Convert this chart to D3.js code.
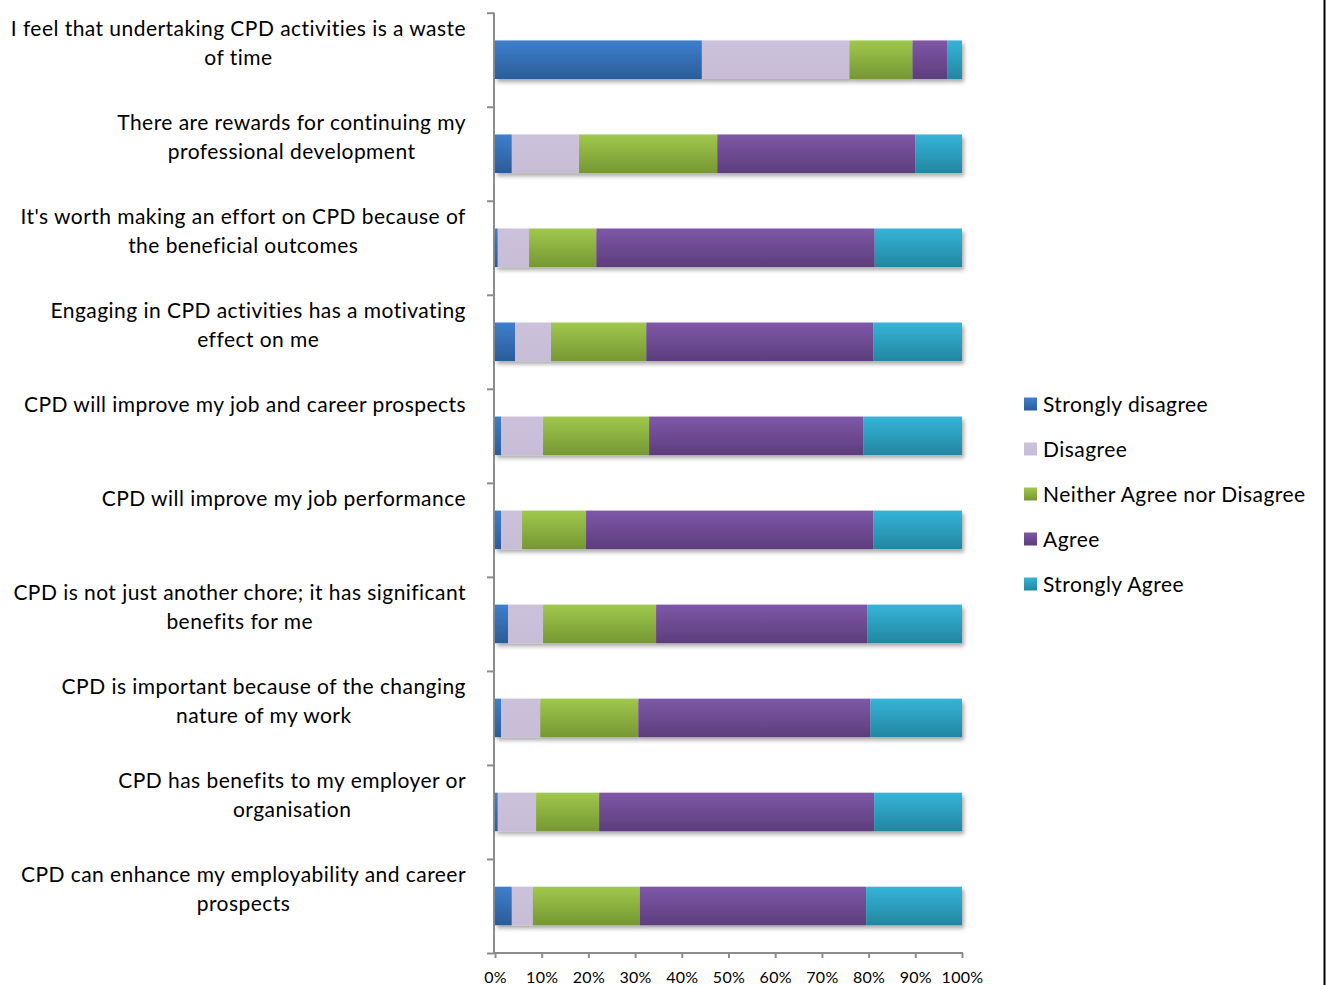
<!DOCTYPE html>
<html>
<head>
<meta charset="utf-8">
<script src="https://cdn.jsdelivr.net/npm/d3@7"></script>
<style>
  html, body { margin: 0; padding: 0; background: #fff; }
  svg { display: block; font-family: Lato, "Open Sans", sans-serif; }
</style>
</head>
<body>
<svg id="chart" width="1327" height="985"></svg>
<script>
// Survey statements (line breaks mark where each label wraps)
const categories = [
  "I feel that undertaking CPD activities is a waste\nof time",
  "There are rewards for continuing my\nprofessional development",
  "It's worth making an effort on CPD because of\nthe beneficial outcomes",
  "Engaging in CPD activities has a motivating\neffect on me",
  "CPD will improve my job and career prospects",
  "CPD will improve my job performance",
  "CPD is not just another chore; it has significant\nbenefits for me",
  "CPD is important because of the changing\nnature of my work",
  "CPD has benefits to my employer or\norganisation",
  "CPD can enhance my employability and career\nprospects"
];

const seriesNames = ["Strongly disagree", "Disagree", "Neither Agree nor Disagree", "Agree", "Strongly Agree"];

// Percentage of respondents per statement, one array per response
const stronglyDisagree = [44.3, 3.6, 0.6, 4.3, 1.3, 1.3, 2.8, 1.3, 0.6, 3.6];
const disagree         = [31.6, 14.4, 6.7, 7.7, 9.0, 4.5, 7.5, 8.4, 8.2, 4.5];
const neither          = [13.5, 29.6, 14.4, 20.4, 22.7, 13.7, 24.2, 21.0, 13.5, 22.9];
const agree            = [7.5, 42.4, 59.6, 48.6, 45.9, 61.5, 45.2, 49.7, 58.9, 48.4];
const stronglyAgree    = [3.1, 10.0, 18.7, 19.0, 21.1, 19.0, 20.3, 19.6, 18.8, 20.5];

const xTicks = [0, 0.1, 0.2, 0.3, 0.4, 0.5, 0.6, 0.7, 0.8, 0.9, 1.0];

const seriesValues = [stronglyDisagree, disagree, neither, agree, stronglyAgree];
const rows = categories.map((c, i) => {
  const r = { category: c };
  seriesNames.forEach((s, k) => { r[s] = seriesValues[k][i]; });
  return r;
});

// Top/bottom gradient stops per series
const palette = {
  "Strongly disagree":          ["#3d7fce", "#2b5c99"],
  "Disagree":                   ["#ccc1db", "#c8bdd6"],
  "Neither Agree nor Disagree": ["#a0c84c", "#769733"],
  "Agree":                      ["#7e58a8", "#5d3d7c"],
  "Strongly Agree":             ["#35b4d8", "#2386a0"]
};

const svg = d3.select("#chart");
const plot = { left: 495, right: 962, top: 12.7, bottom: 953 };
const labelFont = "21px";
const labelSpacing = "0.45px";

const x = d3.scaleLinear().domain([0, 1]).range([plot.left, plot.right]);
const y = d3.scaleBand().domain(categories).range([plot.top, plot.bottom])
  .paddingInner(0.59).paddingOuter(0.295);

const defs = svg.append("defs");
seriesNames.forEach((s, k) => {
  const g = defs.append("linearGradient").attr("id", "grad" + k)
    .attr("x1", 0).attr("y1", 0).attr("x2", 0).attr("y2", 1);
  g.append("stop").attr("offset", "0%").attr("stop-color", palette[s][0]);
  g.append("stop").attr("offset", "100%").attr("stop-color", palette[s][1]);
});
const shadow = defs.append("filter").attr("id", "barShadow")
  .attr("x", "-5%").attr("y", "-20%").attr("width", "115%").attr("height", "160%");
shadow.append("feGaussianBlur").attr("in", "SourceAlpha").attr("stdDeviation", 2.2).attr("result", "b");
shadow.append("feOffset").attr("in", "b").attr("dx", 2).attr("dy", 3).attr("result", "o");
shadow.append("feComponentTransfer").attr("in", "o").attr("result", "s")
  .append("feFuncA").attr("type", "linear").attr("slope", 0.35);
const merge = shadow.append("feMerge");
merge.append("feMergeNode").attr("in", "s");
merge.append("feMergeNode").attr("in", "SourceGraphic");

const gridShadow = defs.append("filter").attr("id", "gridShadow")
  .attr("x", "-200%").attr("y", "-1%").attr("width", "500%").attr("height", "102%");
gridShadow.append("feGaussianBlur").attr("in", "SourceAlpha").attr("stdDeviation", 0.8).attr("result", "b");
gridShadow.append("feOffset").attr("in", "b").attr("dx", 1.5).attr("dy", 0).attr("result", "o");
gridShadow.append("feComponentTransfer").attr("in", "o").attr("result", "s")
  .append("feFuncA").attr("type", "linear").attr("slope", 0.3);
const gm = gridShadow.append("feMerge");
gm.append("feMergeNode").attr("in", "s");
gm.append("feMergeNode").attr("in", "SourceGraphic");

// Vertical gridlines
const grid = svg.append("g")
  .attr("transform", `translate(0,${plot.bottom})`)
  .call(d3.axisBottom(x).tickValues(xTicks).tickSize(-(plot.bottom - plot.top)).tickFormat(""));
grid.select(".domain").remove();
grid.selectAll("line").attr("stroke", "#8c8c8c").attr("stroke-width", 2).attr("filter", "url(#gridShadow)");

// Bottom axis with percentage labels
const xAxis = svg.append("g")
  .attr("transform", `translate(0,${plot.bottom})`)
  .call(d3.axisBottom(x).tickValues(xTicks).tickSize(5).tickPadding(14).tickFormat(d3.format(".0%")));
xAxis.select(".domain").attr("stroke", "#8c8c8c").attr("stroke-width", 2)
  .attr("d", `M${plot.left - 1},0H${plot.right + 1}`);
xAxis.selectAll("line").attr("stroke", "#8c8c8c").attr("stroke-width", 2);
xAxis.selectAll("text").attr("fill", "#000").style("font-size", "16px")
  .style("letter-spacing", "0.3px")
  .style("font-family", "Lato, 'Open Sans', sans-serif");

// Left category axis: line with tick marks between categories
const yIdx = d3.scaleLinear().domain([0, categories.length]).range([plot.top, plot.bottom]);
const yAxis = svg.append("g")
  .attr("transform", `translate(${plot.left - 1},0)`)
  .call(d3.axisLeft(yIdx).tickValues(d3.range(0, categories.length + 1)).tickSize(7).tickFormat(""));
yAxis.select(".domain").attr("stroke", "#8c8c8c").attr("stroke-width", 2)
  .attr("d", `M0,${plot.top}V${plot.bottom}`);
yAxis.selectAll("line").attr("stroke", "#8c8c8c").attr("stroke-width", 2);

// Stacked 100% bars
const stack = d3.stack().keys(seriesNames).offset(d3.stackOffsetExpand);
const layers = stack(rows);

const barGroup = svg.append("g").attr("filter", "url(#barShadow)");
barGroup.selectAll("g.layer")
  .data(layers)
  .join("g")
  .attr("class", "layer")
  .attr("fill", (d, k) => `url(#grad${k})`)
  .selectAll("rect")
  .data(d => d)
  .join("rect")
  .attr("x", d => x(d[0]))
  .attr("width", d => Math.max(0, x(d[1]) - x(d[0])))
  .attr("y", d => y(d.data.category))
  .attr("height", y.bandwidth());

// Category labels: each block right-aligned, lines centred within the block
const labelRight = 466;
const labelG = svg.append("g").style("font-size", labelFont)
  .style("letter-spacing", labelSpacing).attr("fill", "#000");
categories.forEach(c => {
  const lines = c.split("\n");
  const cy = y(c) + y.bandwidth() / 2;
  const tmp = labelG.append("g");
  const texts = lines.map((ln, j) =>
    tmp.append("text").text(ln)
      .attr("text-anchor", "middle")
      .attr("dominant-baseline", "central")
      .attr("y", cy - 32 + j * 29));
  const maxW = d3.max(texts, t => t.node().getBoundingClientRect().width);
  texts.forEach(t => t.attr("x", labelRight - maxW / 2));
});

// Legend
const legend = svg.append("g").attr("transform", "translate(1024,404)");
seriesNames.forEach((s, k) => {
  const row = legend.append("g").attr("transform", `translate(0,${k * 45})`);
  row.append("rect").attr("x", 0).attr("y", -6.5).attr("width", 13).attr("height", 13)
    .attr("fill", `url(#grad${k})`);
  row.append("text").attr("x", 19).attr("y", -1).attr("dominant-baseline", "central")
    .style("font-size", labelFont).style("letter-spacing", labelSpacing).text(s);
});

// Frame edge on the right
svg.append("line").attr("x1", 1324.5).attr("x2", 1324.5).attr("y1", 0).attr("y2", 985)
  .attr("stroke", "#000").attr("stroke-width", 2);
</script>
</body>
</html>
